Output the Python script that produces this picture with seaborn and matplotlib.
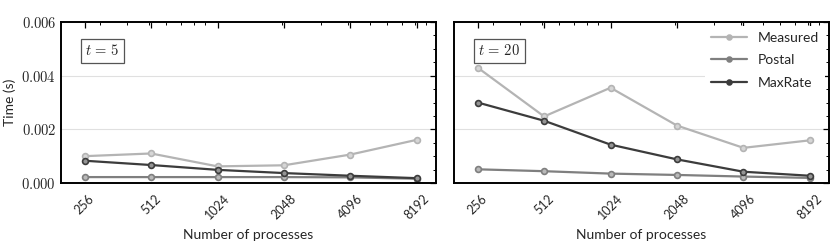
import matplotlib
matplotlib.use('Agg')
import matplotlib.pyplot as plt
import matplotlib.ticker as mticker
import matplotlib.colors as mcolors
import seaborn as sns
import pandas as pd

sns.set_style('white')
plt.rcParams['font.family'] = ['Lato', 'DejaVu Sans']
plt.rcParams['mathtext.fontset'] = 'cm'

# Data
procs = [256, 512, 1024, 2048, 4096, 8192]
series = ['Measured', 'Postal', 'MaxRate']

t5_measured = [0.00100, 0.00110, 0.00062, 0.00066, 0.00106, 0.00161]
t5_postal = [0.00022, 0.00022, 0.00022, 0.00022, 0.00021, 0.00016]
t5_maxrate = [0.00083, 0.00067, 0.00049, 0.00037, 0.00027, 0.00018]

t20_measured = [0.00430, 0.00248, 0.00355, 0.00214, 0.00131, 0.00159]
t20_postal = [0.00051, 0.00044, 0.00035, 0.00030, 0.00024, 0.00019]
t20_maxrate = [0.00300, 0.00232, 0.00143, 0.00088, 0.00042, 0.00027]

panels = {5: [t5_measured, t5_postal, t5_maxrate],
          20: [t20_measured, t20_postal, t20_maxrate]}

rows = []
for t, vals in panels.items():
    for name, ys in zip(series, vals):
        for p, y in zip(procs, ys):
            rows.append({'t': t, 'model': name, 'procs': p, 'time': y})
df = pd.DataFrame(rows)

palette = {'Measured': '#b4b4b4', 'Postal': '#7f7f7f', 'MaxRate': '#3c3c3c'}


def lighten(c, f=0.45):
    r, g, b = mcolors.to_rgb(c)
    return (r + (1 - r) * f, g + (1 - g) * f, b + (1 - b) * f)


fig, axes = plt.subplots(1, 2, figsize=(8.3, 2.41), dpi=100, sharey=True)
fig.subplots_adjust(left=61/830, right=829/830, top=1-22/241, bottom=1-183/241,
                    wspace=0.048)

for ax, t in zip(axes, [5, 20]):
    sub = df[df['t'] == t]
    sns.lineplot(data=sub, x='procs', y='time', hue='model', hue_order=series,
                 palette=palette, marker='o', markersize=4.2, linewidth=1.6,
                 ax=ax, legend=(t == 20))
    for ln in ax.get_lines():
        c = ln.get_color()
        ln.set_markeredgecolor(c)
        ln.set_markerfacecolor(lighten(c))
        ln.set_markeredgewidth(1.2)
    ax.set_xscale('log')
    ax.set_xlim(200, 10000)
    ax.xaxis.set_major_locator(mticker.FixedLocator(procs))
    ax.xaxis.set_major_formatter(mticker.FixedFormatter([str(p) for p in procs]))
    ax.xaxis.set_minor_locator(mticker.LogLocator(base=10, subs=range(2, 10)))
    ax.xaxis.set_minor_formatter(mticker.NullFormatter())
    ax.set_ylim(0, 0.006)
    ax.yaxis.set_major_locator(mticker.MultipleLocator(0.002))
    ax.yaxis.set_minor_locator(mticker.MultipleLocator(0.0005))
    ax.yaxis.set_major_formatter(mticker.FuncFormatter(lambda v, p: f'${v:.3f}$'))
    ax.grid(axis='y', which='major', color='#e0e0e0', linewidth=0.8)
    ax.tick_params(which='both', direction='in', top=True, right=True, color='black')
    ax.tick_params(which='major', length=4, width=0.9, labelsize=9)
    ax.tick_params(axis='x', which='major', pad=7)
    ax.tick_params(axis='y', which='major', labelsize=10.5)
    ax.tick_params(which='minor', length=2.5, width=0.7)
    plt.setp(ax.get_xticklabels(), rotation=45, ha='center', va='top',
             rotation_mode='default')
    for s in ax.spines.values():
        s.set_color('black')
        s.set_linewidth(1.4)
    ax.set_xlabel('Number of processes', fontsize=10, labelpad=5)
    ax.set_ylabel('Time (s)' if t == 5 else '', fontsize=10)
    ax.text(0.065, 0.82, f'$t\\,=\\,{t}$', transform=ax.transAxes, fontsize=10.5,
            va='center', ha='left',
            bbox=dict(boxstyle='square,pad=0.3', facecolor='white',
                      edgecolor='#555555', linewidth=0.9))

leg = axes[1].legend(loc='upper right', frameon=True, framealpha=1,
                     edgecolor='white', fontsize=10, handlelength=2.6,
                     labelspacing=0.75, borderaxespad=0.3)
leg.get_frame().set_linewidth(0)
for h in leg.get_lines():
    h.set_markerfacecolor(h.get_color())
    h.set_markeredgecolor(h.get_color())
    h.set_markersize(3.5)

fig.savefig('out.png', dpi=100)
